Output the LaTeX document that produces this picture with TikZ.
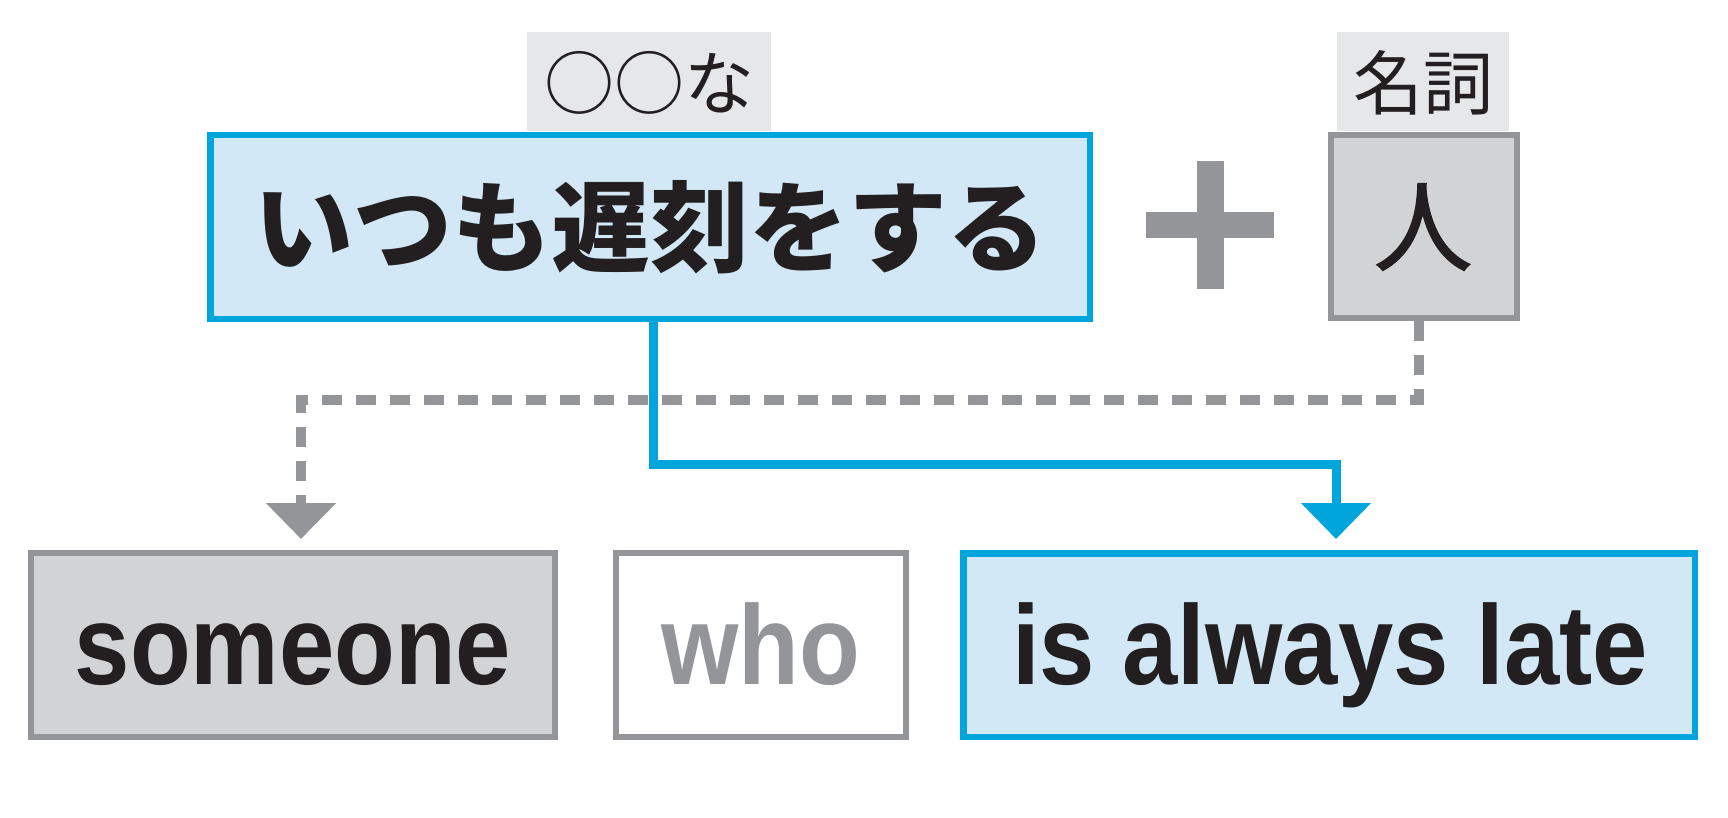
\documentclass[tikz,border=0pt]{standalone}
\usepackage{fontspec}
\usetikzlibrary{arrows.meta}
\newfontfamily\jpfont{Noto Sans CJK JP}
\newfontfamily\jpmed[FakeBold=1.2]{Noto Sans CJK JP}
\newfontfamily\enfont[FakeStretch=0.88]{Liberation Sans}
\definecolor{cblue}{RGB}{0,165,219}
\definecolor{lblue}{RGB}{210,232,246}
\definecolor{cgray}{RGB}{147,149,152}
\definecolor{lgray}{RGB}{209,211,212}
\definecolor{tagfill}{RGB}{230,231,232}
\definecolor{ink}{RGB}{35,31,32}
\begin{document}
\begin{tikzpicture}[x=0.5pt,y=-0.5pt,
  bluebox/.style={draw=cblue,fill=lblue,line width=3.25pt,inner sep=0pt,minimum height=91.75pt},
  graybox/.style={draw=cgray,fill=lgray,line width=3pt,inner sep=0pt,minimum height=92pt},
  whitebox/.style={draw=cgray,fill=white,line width=3pt,inner sep=0pt,minimum height=92pt},
  tagbox/.style={fill=tagfill,inner sep=0pt,minimum height=49.5pt},
  jpbig/.style={font=\jpfont\bfseries\fontsize{49.5pt}{50pt}\selectfont,text=ink,inner sep=0pt},
  jpmid/.style={font=\jpmed\fontsize{49.5pt}{50pt}\selectfont,text=ink,inner sep=0pt},
  jptag/.style={font=\jpfont\fontsize{35pt}{36pt}\selectfont,text=ink,inner sep=0pt},
  entext/.style={font=\enfont\bfseries\fontsize{56.5pt}{57pt}\selectfont,inner sep=0pt,anchor=base},
  plusbar/.style={fill=cgray,inner sep=0pt},
  blueline/.style={draw=cblue,line width=4.5pt,-{Triangle[width=34pt,length=18pt]}},
  grayline/.style={draw=cgray,line width=4.75pt,dash pattern=on 10pt off 7pt,-{Triangle[width=34pt,length=18pt]}}
]
\useasboundingbox (0,0) rectangle (1728,818);
% tags
\node[tagbox,minimum width=122pt] (tag1) at (649,81.5) {};
\node[tagbox,minimum width=86pt] (tag2) at (1423,81.5) {};
\node[jptag] (tag1t) at (649,83) {○○な};
\node[jptag] (tag2t) at (1423,83) {名詞};
% top boxes
\node[bluebox,minimum width=439.75pt] (main) at (650,227) {};
\node[jpbig] (maint) at (650,227) {いつも遅刻をする};
\node[graybox,minimum width=93pt,minimum height=91.5pt] (person) at (1424,226.5) {};
\node[jpmid] (persont) at (1423,227) {人};
% plus
\node[plusbar,minimum width=64pt,minimum height=13pt] (plush) at (1210,225) {};
\node[plusbar,minimum width=13.5pt,minimum height=64pt] (plusv) at (1210.5,225) {};
% bottom boxes
\node[graybox,minimum width=262pt] (some) at (293,645) {};
\node[whitebox,minimum width=145pt] (who) at (761,645) {};
\node[bluebox,minimum width=365.75pt] (late) at (1329,645) {};
\node[entext,text=ink] (somet) at (293,684) {someone};
\node[entext,text=cgray] (whot) at (761,684) {who};
\node[entext,text=ink] (latet) at (1330,684) {is always late};
% connectors
\draw[grayline] ([xshift=-2.5pt]person.south) -- ++(0,79) -| ([xshift=4pt,yshift=5.5pt]some.north);
\draw[blueline] ([xshift=1.5pt]main.south) -- ++(0,142.25) -| ([xshift=3.5pt,yshift=5.5pt]late.north);
\end{tikzpicture}
\end{document}
